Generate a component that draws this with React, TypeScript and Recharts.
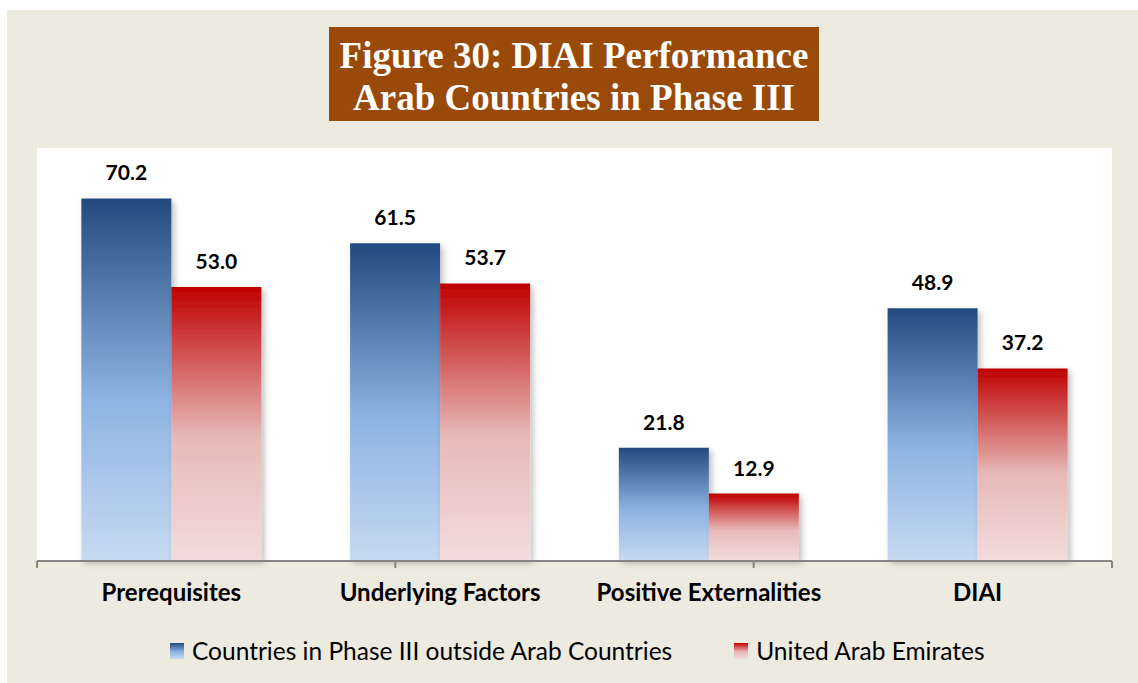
import React from 'react';
import {
  BarChart,
  Bar,
  XAxis,
  YAxis,
  CartesianGrid,
  LabelList,
} from 'recharts';

const categories = ['Prerequisites', 'Underlying Factors', 'Positive Externalities', 'DIAI'];
const phaseThree = [70.2, 61.5, 21.8, 48.9];
const uae = [53.0, 53.7, 12.9, 37.2];
const seriesNames = ['Countries in Phase III outside Arab Countries', 'United Arab Emirates'];
const boundaryTicks = [0, 1, 2, 3, 4];

const chartData = categories.map((name, i) => ({
  name,
  phase: phaseThree[i],
  uae: uae[i],
}));

const FONT = 'Lato, "Open Sans", sans-serif';

const CategoryTick = ({ x, y, payload }: any) => (
  <text
    x={x}
    y={y + 33}
    textAnchor="middle"
    style={{ fontFamily: FONT, fontWeight: 700, fontSize: 24, fill: '#000' }}
  >
    {payload.value}
  </text>
);

const EmptyTick = () => <g />;

const ChartLegend = () => (
  <div
    style={{
      position: 'absolute',
      left: 170,
      top: 637,
      display: 'flex',
      gap: 62,
      fontFamily: FONT,
      fontSize: 24.5,
      lineHeight: '28px',
      color: '#000',
    }}
  >
    {seriesNames.map((name, i) => (
      <div key={name} style={{ display: 'flex', alignItems: 'center' }}>
        <span
          style={{
            display: 'inline-block',
            width: 14,
            height: 16,
            marginRight: 8,
            background:
              i === 0
                ? 'linear-gradient(#234a7e, #8db3e2 55%, #c6d9f1)'
                : 'linear-gradient(#c00000, #e6b9b8 55%, #f2dcdb)',
          }}
        />
        {name}
      </div>
    ))}
  </div>
);

const App: React.FC = () => {
  return (
    <div style={{ position: 'absolute', left: 0, top: 0, width: 1138, height: 683, background: '#fff' }}>
      <div style={{ position: 'absolute', left: 7, top: 10, width: 1131, height: 673, background: '#edeae0' }} />
      <div
        style={{
          position: 'absolute',
          left: 329,
          top: 27,
          width: 490,
          height: 94,
          background: '#9a4a08',
          color: '#fff',
          fontFamily: '"Liberation Serif", "Times New Roman", serif',
          fontWeight: 700,
          fontSize: 37,
          lineHeight: '42px',
          textAlign: 'center',
          paddingTop: 8,
          boxSizing: 'border-box',
        }}
      >
        Figure 30: DIAI Performance
        <br />
        Arab Countries in Phase III
      </div>
      <div style={{ position: 'absolute', left: 0, top: 0 }}>
        <BarChart
          width={1138}
          height={683}
          data={chartData}
          margin={{ top: 148, right: 26, left: 37, bottom: 121 }}
          barCategoryGap="16.5%"
          barGap={0}
        >
          <defs>
            <linearGradient id="gradBlue" x1="0" y1="0" x2="0" y2="1">
              <stop offset="0%" stopColor="#224a7e" />
              <stop offset="55%" stopColor="#8db3e2" />
              <stop offset="100%" stopColor="#c6d9f1" />
            </linearGradient>
            <linearGradient id="gradRed" x1="0" y1="0" x2="0" y2="1">
              <stop offset="0%" stopColor="#c00000" />
              <stop offset="55%" stopColor="#e6b9b8" />
              <stop offset="100%" stopColor="#f2dcdb" />
            </linearGradient>
            <filter id="barShadow" x="-10%" y="-10%" width="130%" height="130%">
              <feDropShadow dx="3" dy="3" stdDeviation="3" floodColor="#000" floodOpacity="0.25" />
            </filter>
          </defs>
          <CartesianGrid fill="#fff" horizontal={false} vertical={false} />
          <XAxis
            xAxisId="edge"
            type="number"
            domain={[0, 4]}
            ticks={boundaryTicks}
            tick={<EmptyTick />}
            tickSize={7}
            axisLine={{ stroke: '#868686', strokeWidth: 2 }}
            tickLine={{ stroke: '#868686', strokeWidth: 2 }}
            interval={0}
            height={1}
          />
          <XAxis
            dataKey="name"
            xAxisId="cat"
            axisLine={false}
            tickLine={false}
            tick={<CategoryTick />}
            interval={0}
            height={1}
          />
          <YAxis hide domain={[0, 80]} />
          <Bar
            dataKey="phase"
            xAxisId="cat"
            name={seriesNames[0]}
            fill="url(#gradBlue)"
            filter="url(#barShadow)"
            isAnimationActive={false}
          >
            <LabelList
              dataKey="phase"
              position="top"
              offset={18}
              formatter={(v: number) => v.toFixed(1)}
              style={{ fontFamily: FONT, fontWeight: 700, fontSize: 21, fill: '#000' }}
            />
          </Bar>
          <Bar
            dataKey="uae"
            xAxisId="cat"
            name={seriesNames[1]}
            fill="url(#gradRed)"
            filter="url(#barShadow)"
            isAnimationActive={false}
          >
            <LabelList
              dataKey="uae"
              position="top"
              offset={18}
              formatter={(v: number) => v.toFixed(1)}
              style={{ fontFamily: FONT, fontWeight: 700, fontSize: 21, fill: '#000' }}
            />
          </Bar>
        </BarChart>
      </div>
      <ChartLegend />
    </div>
  );
};

export default App;
